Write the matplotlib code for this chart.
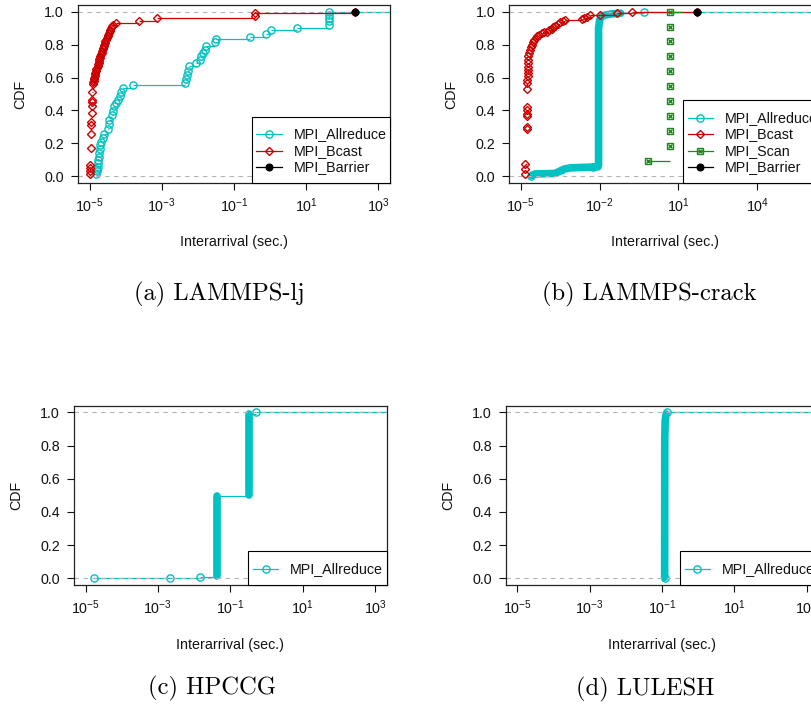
import numpy as np
import matplotlib
matplotlib.use("Agg")
import matplotlib.pyplot as plt
from matplotlib.ticker import FixedLocator, NullLocator, FormatStrFormatter
from matplotlib.patches import Rectangle
from matplotlib.lines import Line2D

plt.rcParams["font.family"] = ["Liberation Sans", "DejaVu Sans"]

# ---- data: ECDF knots (interarrival sec., CDF) ----
# (a) LAMMPS-lj
lj_allreduce_x = [1.55e-5, 1.58e-5, 1.62e-5, 1.66e-5, 1.70e-5, 1.74e-5, 1.78e-5, 1.84e-5,
                  1.90e-5, 1.97e-5, 2.05e-5, 2.35e-5, 2.45e-5, 3.2e-5, 3.4e-5, 3.55e-5,
                  4.15e-5, 4.4e-5, 4.9e-5, 5.5e-5, 6.0e-5, 6.8e-5, 7.6e-5, 8.3e-5, 1.6e-4,
                  4.3e-3, 4.8e-3, 4.95e-3, 5.3e-3, 5.6e-3, 9.0e-3, 1.11e-2, 1.24e-2, 1.38e-2,
                  1.53e-2, 1.71e-2, 2.9e-2, 3.24e-2, 0.27, 0.785, 1.03, 5.66,
                  42.6, 42.6, 42.6, 42.6, 42.6]
lj_allreduce_cdf = [0.012, 0.03, 0.045, 0.06, 0.08, 0.10, 0.12, 0.14,
                    0.165, 0.19, 0.21, 0.235, 0.255, 0.285, 0.315, 0.345,
                    0.375, 0.395, 0.425, 0.445, 0.465, 0.49, 0.51, 0.535, 0.553,
                    0.567, 0.588, 0.618, 0.642, 0.668, 0.688, 0.708, 0.728, 0.749,
                    0.768, 0.789, 0.815, 0.833, 0.845, 0.865, 0.889, 0.903,
                    0.92, 0.94, 0.96, 0.98, 1.0]
lj_bcast_x = [1.0e-5, 1.0e-5, 1.0e-5, 1.0e-5, 1.07e-5, 1.07e-5, 1.07e-5, 1.07e-5,
              1.15e-5, 1.15e-5, 1.15e-5, 1.15e-5, 1.15e-5,
              1.23e-5, 1.26e-5, 1.29e-5, 1.32e-5, 1.35e-5, 1.38e-5, 1.41e-5, 1.45e-5,
              1.48e-5, 1.55e-5, 1.58e-5, 1.66e-5, 1.70e-5, 1.78e-5, 1.82e-5, 1.86e-5,
              1.91e-5, 2.0e-5, 2.09e-5, 2.19e-5, 2.24e-5, 2.34e-5, 2.40e-5, 2.45e-5,
              2.51e-5, 2.63e-5, 2.75e-5, 2.88e-5, 3.02e-5, 3.16e-5, 3.24e-5, 3.47e-5,
              3.63e-5, 3.80e-5, 3.98e-5, 4.27e-5, 4.47e-5, 5.5e-5,
              2.3e-4, 7.4e-4, 0.37, 0.37, 230]
lj_bcast_cdf = [0.012, 0.03, 0.05, 0.07, 0.17, 0.255, 0.31, 0.33,
                0.385, 0.43, 0.45, 0.465, 0.51,
                0.56, 0.57, 0.58, 0.59, 0.60, 0.61, 0.62, 0.63,
                0.64, 0.65, 0.66, 0.67, 0.68, 0.69, 0.70, 0.71,
                0.72, 0.73, 0.74, 0.75, 0.76, 0.77, 0.78, 0.79,
                0.80, 0.81, 0.82, 0.83, 0.84, 0.85, 0.86, 0.87,
                0.88, 0.89, 0.90, 0.91, 0.92, 0.933,
                0.945, 0.96, 0.975, 0.99, 1.0]
lj_barrier_x = [230]
lj_barrier_cdf = [1.0]

# (b) LAMMPS-crack
crack_allreduce_x = [2.4e-5, 5.5e-3, 0.47]
crack_allreduce_cdf = [0.003, 0.056, 1.0]
crack_allreduce_dense_x = [2.6e-5, 3.55e-5, 2.0e-4, 4.5e-4, 7.9e-4, 8.7e-3, 9.1e-3, 9.1e-3,
                           1.0e-2, 1.26e-2, 2.5e-2, 6.3e-2]
crack_allreduce_dense_cdf = [0.006, 0.015, 0.018, 0.045, 0.052, 0.058, 0.07, 0.90,
                             0.95, 0.975, 0.985, 0.99]
crack_bcast_x = [1.5e-5, 1.5e-5, 1.5e-5, 1.74e-5, 1.74e-5, 1.74e-5, 1.74e-5, 1.74e-5,
                 1.74e-5, 1.74e-5, 1.74e-5, 1.78e-5, 1.82e-5, 1.82e-5, 1.86e-5, 1.86e-5,
                 1.91e-5, 1.91e-5, 1.95e-5, 2.09e-5, 2.19e-5, 2.4e-5, 2.57e-5, 2.82e-5,
                 3.16e-5, 3.63e-5, 4.17e-5, 5.0e-5, 6.17e-5, 7.6e-5, 9.55e-5, 1.2e-4,
                 1.48e-4, 1.74e-4, 2.0e-4, 2.5e-4, 3.1e-4, 4.0e-4, 4.8e-4, 2.1e-3,
                 2.6e-3, 3.2e-3, 4.3e-3, 1.05e-2, 4.5e-2, 0.168, 51]
crack_bcast_cdf = [0.014, 0.044, 0.074, 0.29, 0.30, 0.365, 0.38, 0.40,
                   0.42, 0.53, 0.568, 0.585, 0.607, 0.625, 0.648, 0.665,
                   0.688, 0.705, 0.728, 0.75, 0.769, 0.785, 0.799, 0.815,
                   0.829, 0.84, 0.849, 0.86, 0.870, 0.875, 0.879, 0.887,
                   0.895, 0.905, 0.915, 0.925, 0.936, 0.945, 0.950, 0.956,
                   0.962, 0.970, 0.978, 0.982, 0.99, 0.995, 1.0]
crack_scan_x = [0.72, 4.9, 4.9, 4.9, 4.9, 4.9, 4.9, 4.9, 4.9, 4.9, 4.9]
crack_scan_cdf = [0.094, 0.185, 0.275, 0.366, 0.457, 0.547, 0.642, 0.728, 0.819, 0.909, 1.0]
crack_barrier_x = [51]
crack_barrier_cdf = [1.0]

# (c) HPCCG
hpccg_allreduce_x = [1.7e-5, 2.1e-3, 1.45e-2, 0.507]
hpccg_allreduce_cdf = [0.003, 0.005, 0.008, 1.0]
hpccg_allreduce_dense_x = [0.0436, 0.0436, np.nan, 0.337, 0.337]
hpccg_allreduce_dense_cdf = [0.012, 0.495, np.nan, 0.505, 0.99]

# (d) LULESH
lulesh_allreduce_x = [0.118, 0.138]
lulesh_allreduce_cdf = [0.002, 1.0]
lulesh_allreduce_dense_x = [0.118, 0.119, 0.122, 0.13]
lulesh_allreduce_dense_cdf = [0.006, 0.85, 0.95, 0.99]

CYAN = "#00C2C2"
RED = "#CD0000"
GREEN = "#1A8A1A"

STYLE = {
    "MPI_Allreduce": dict(color=CYAN, marks=[("o", 5.2)], mfc="none"),
    "MPI_Bcast": dict(color=RED, marks=[("D", 3.8)], mfc="none"),
    "MPI_Scan": dict(color=GREEN, marks=[("s", 5.0), ("x", 3.4)], mfc="none"),
    "MPI_Barrier": dict(color="black", marks=[("o", 4.8)], mfc="black"),
}


def r_lim(lo, hi):
    a, b = np.log10(lo), np.log10(hi)
    pad = 0.04 * (b - a)
    return 10 ** (a - pad), 10 ** (b + pad)


def draw_marks(ax, x, y, st, z):
    for m, ms in st["marks"]:
        ax.plot(x, y, ls="none", marker=m, ms=ms, mfc=st["mfc"], mec=st["color"],
                mew=1.0, zorder=z + 0.1)


def draw_ecdf(ax, name, x, cdf, first, xlim, z, dense_x=None, dense_cdf=None):
    st = STYLE[name]
    c = st["color"]
    px, py = np.asarray(x, float), np.asarray(cdf, float)
    kx, ky = px, py
    if dense_x is not None:
        dx, dy = np.asarray(dense_x, float), np.asarray(dense_cdf, float)
        ax.plot(dx, dy, color=c, lw=5.5, solid_capstyle="round",
                solid_joinstyle="round", zorder=z)
        ok = ~np.isnan(dx)
        kx = np.concatenate([px, dx[ok]])
        ky = np.concatenate([py, dy[ok]])
        order = np.argsort(ky, kind="stable")
        kx, ky = kx[order], ky[order]
    # horizontal steps (no verticals, like R's plot.ecdf)
    if len(kx) > 1:
        ax.hlines(ky[:-1], kx[:-1], kx[1:], colors=c, lw=0.9, zorder=z)
    # tails
    if first:
        ax.hlines(1.0, kx[-1], xlim[1] * 10, colors=c, lw=0.9, zorder=z)
    else:
        u = np.unique(kx)
        dr = max(0.08 * (u[-1] - u[0]), np.median(np.diff(u))) if len(u) > 1 else abs(u[0]) / 16
        lo, hi = u[0] - 2 * dr, u[-1] + 2 * dr
        if lo > 0:
            ax.hlines(0.0, lo, kx[0], colors=c, lw=0.9, zorder=z)
        ax.hlines(1.0, kx[-1], hi, colors=c, lw=0.9, zorder=z)
    draw_marks(ax, px, py, st, z)


def add_legend(ax, names):
    n = len(names)
    rows = [0.09 + 0.0916 * k for k in range(n)][::-1]
    top = rows[0] + 0.10
    ax.add_patch(Rectangle((0.558, 0.0), 0.442, top, transform=ax.transAxes,
                           facecolor="white", edgecolor="black", lw=0.8,
                           zorder=10, clip_on=False))
    for name, ry in zip(names, rows):
        st = STYLE[name]
        ax.add_line(Line2D([0.572, 0.653], [ry, ry], transform=ax.transAxes,
                           color=st["color"], lw=0.9, zorder=11, clip_on=False))
        for m, ms in st["marks"]:
            ax.add_line(Line2D([0.6125], [ry], transform=ax.transAxes, ls="none",
                               marker=m, ms=ms, mfc=st["mfc"], mec=st["color"],
                               mew=1.0, zorder=12, clip_on=False))
        ax.text(0.691, ry, name, transform=ax.transAxes, fontsize=10.3,
                va="center", ha="left", zorder=12, color="#111111")


def style_axes(ax, xlim, xticks):
    ax.set_xscale("log")
    ax.set_xlim(*xlim)
    ax.set_ylim(-0.04, 1.04)
    ax.xaxis.set_major_locator(FixedLocator(xticks))
    ax.xaxis.set_minor_locator(NullLocator())
    ax.yaxis.set_major_locator(FixedLocator([0, 0.2, 0.4, 0.6, 0.8, 1.0]))
    ax.yaxis.set_major_formatter(FormatStrFormatter("%.1f"))
    ax.tick_params(direction="out", length=5, width=0.8, labelsize=10.3, pad=5,
                   colors="#111111")
    for s in ax.spines.values():
        s.set_linewidth(0.9)
        s.set_color("#222222")
    for yv in (0.0, 1.0):
        ax.axhline(yv, color="#B3B3B3", lw=0.8, ls=(0, (4, 4)), zorder=2.5)
    ax.text(-0.185, 0.5, "CDF", transform=ax.transAxes, rotation=90,
            ha="center", va="center", fontsize=10.3, color="#111111")
    ax.text(0.5, -0.333, "Interarrival (sec.)", transform=ax.transAxes,
            ha="center", va="center", fontsize=10.3, color="#111111")


W, H = 812, 711
fig = plt.figure(figsize=(W / 100, H / 100), dpi=100)

def place(l, t, w, h):
    return fig.add_axes([l / W, 1 - (t + h) / H, w / W, h / H])

ax_a = place(78, 5, 312, 178)
ax_b = place(509.3, 5, 312, 178)
ax_c = place(74, 405.7, 312.7, 179.3)
ax_d = place(505.7, 405.7, 312.7, 179.3)

ticks_a = [1e-5, 1e-3, 1e-1, 1e1, 1e3]
ticks_b = [1e-5, 1e-2, 1e1, 1e4, 1e7]

# (a)
xl = r_lim(1e-5, 1e3)
style_axes(ax_a, xl, ticks_a)
draw_ecdf(ax_a, "MPI_Allreduce", lj_allreduce_x, lj_allreduce_cdf, True, xl, 2)
draw_ecdf(ax_a, "MPI_Bcast", lj_bcast_x, lj_bcast_cdf, False, xl, 3)
draw_ecdf(ax_a, "MPI_Barrier", lj_barrier_x, lj_barrier_cdf, False, xl, 4)
add_legend(ax_a, ["MPI_Allreduce", "MPI_Bcast", "MPI_Barrier"])

# (b)
xl = r_lim(1e-5, 1e6)
style_axes(ax_b, xl, ticks_b)
draw_ecdf(ax_b, "MPI_Allreduce", crack_allreduce_x, crack_allreduce_cdf, True, xl, 2,
          crack_allreduce_dense_x, crack_allreduce_dense_cdf)
draw_ecdf(ax_b, "MPI_Bcast", crack_bcast_x, crack_bcast_cdf, False, xl, 3)
draw_ecdf(ax_b, "MPI_Scan", crack_scan_x, crack_scan_cdf, False, xl, 4)
draw_ecdf(ax_b, "MPI_Barrier", crack_barrier_x, crack_barrier_cdf, False, xl, 5)
add_legend(ax_b, ["MPI_Allreduce", "MPI_Bcast", "MPI_Scan", "MPI_Barrier"])

# (c)
xl = r_lim(1e-5, 1e3)
style_axes(ax_c, xl, ticks_a)
draw_ecdf(ax_c, "MPI_Allreduce", hpccg_allreduce_x, hpccg_allreduce_cdf, True, xl, 2,
          hpccg_allreduce_dense_x, hpccg_allreduce_dense_cdf)
add_legend(ax_c, ["MPI_Allreduce"])

# (d)
style_axes(ax_d, xl, ticks_a)
draw_ecdf(ax_d, "MPI_Allreduce", lulesh_allreduce_x, lulesh_allreduce_cdf, True, xl, 2,
          lulesh_allreduce_dense_x, lulesh_allreduce_dense_cdf)
add_legend(ax_d, ["MPI_Allreduce"])

cap = dict(family="cmr10", fontsize=17.7, ha="center", va="center")
fig.text(219 / W, 1 - 294 / H, "(a) LAMMPS-lj", **cap)
fig.text(649 / W, 1 - 294 / H, "(b) LAMMPS-crack", **cap)
fig.text(212.5 / W, 1 - 688 / H, "(c) HPCCG", **cap)
fig.text(644.8 / W, 1 - 689 / H, "(d) LULESH", **cap)

fig.savefig("out.png", dpi=100)
